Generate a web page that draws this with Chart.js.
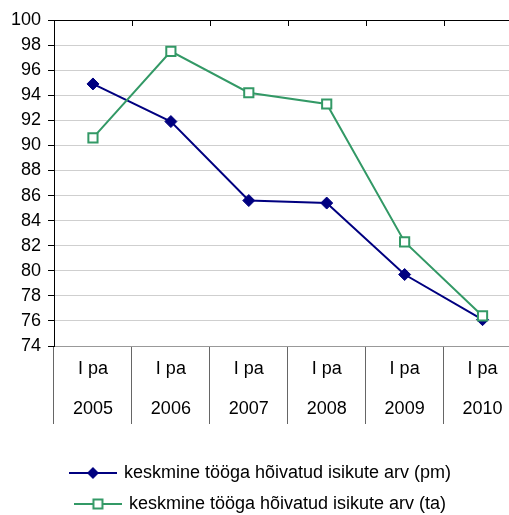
<!DOCTYPE html>
<html>
<head>
<meta charset="utf-8">
<script src="https://cdn.jsdelivr.net/npm/chart.js@4/dist/chart.umd.min.js"></script>
<style>
  html, body { margin: 0; padding: 0; background: #fff; overflow: hidden; }
  #wrap { width: 530px; height: 523px; }
</style>
</head>
<body>
<div id="wrap"><canvas id="lineChart"></canvas></div>
<script>
// andmed
const periood = ["I pa", "I pa", "I pa", "I pa", "I pa", "I pa"];
const aastad = ["2005", "2006", "2007", "2008", "2009", "2010"];
const pmVaartused = [94.9, 91.9, 85.6, 85.4, 79.7, 76.1];
const taVaartused = [90.6, 97.5, 94.2, 93.3, 82.3, 76.4];
const pmNimi = "keskmine tööga hõivatud isikute arv (pm)";
const taNimi = "keskmine tööga hõivatud isikute arv (ta)";

const SININE = "#000080";
const ROHELINE = "#339966";
const FONT = "'Liberation Sans', Arial, sans-serif";

// legendi ikoonid: joon + marker keskel
function teeIkoon(varv, tyyp) {
    const c = document.createElement("canvas");
    c.width = 48;
    c.height = 16;
    const ctx = c.getContext("2d");
    ctx.strokeStyle = varv;
    ctx.lineWidth = 2;
    ctx.beginPath();
    ctx.moveTo(0, 8);
    ctx.lineTo(48, 8);
    ctx.stroke();
    if (tyyp === "romb") {
        ctx.fillStyle = varv;
        ctx.beginPath();
        ctx.moveTo(24, 2);
        ctx.lineTo(30, 8);
        ctx.lineTo(24, 14);
        ctx.lineTo(18, 8);
        ctx.closePath();
        ctx.fill();
    } else {
        ctx.fillStyle = "#fff";
        ctx.fillRect(19.5, 3.5, 9, 9);
        ctx.strokeRect(19.5, 3.5, 9, 9);
    }
    return c;
}
const ikoonid = [teeIkoon(SININE, "romb"), teeIkoon(ROHELINE, "ruut")];

// ülemise telje sisse suunatud kriipsud kategooriate piiril
const ylemisedKriipsud = {
    id: "ylemisedKriipsud",
    afterDraw(chart) {
        const x = chart.scales.x;
        const ctx = chart.ctx;
        const n = x.ticks.length;
        const w = (x.right - x.left) / n;
        const top = chart.chartArea.top;
        ctx.save();
        ctx.strokeStyle = "#000";
        ctx.lineWidth = 1;
        ctx.beginPath();
        ctx.moveTo(chart.chartArea.left, top + 0.5);
        ctx.lineTo(chart.chartArea.right, top + 0.5);
        for (let i = 1; i < n; i++) {
            const px = Math.round(x.left + i * w) + 0.5;
            ctx.moveTo(px, top);
            ctx.lineTo(px, top + 6);
        }
        ctx.stroke();
        ctx.restore();
    }
};

new Chart(document.getElementById("lineChart"), {
    type: "line",
    data: {
        labels: periood.map((p, i) => [p, aastad[i]]),
        datasets: [
            {
                label: pmNimi,
                data: pmVaartused,
                borderColor: SININE,
                backgroundColor: SININE,
                borderWidth: 2,
                pointStyle: "rectRot",
                pointRadius: 6,
                pointBorderWidth: 1,
                pointBackgroundColor: SININE,
                pointBorderColor: SININE,
                tension: 0,
                order: 1
            },
            {
                label: taNimi,
                data: taVaartused,
                borderColor: ROHELINE,
                backgroundColor: "#fff",
                borderWidth: 2,
                pointStyle: "rect",
                pointRadius: 6.5,
                pointBorderWidth: 2,
                pointBackgroundColor: "#fff",
                pointBorderColor: ROHELINE,
                tension: 0,
                order: 0
            }
        ]
    },
    options: {
        responsive: true,
        maintainAspectRatio: false,
        animation: false,
        layout: { padding: { top: 20, right: 8, left: 0, bottom: 0 } },
        plugins: {
            tooltip: { enabled: false },
            legend: {
                position: "bottom",
                labels: {
                    usePointStyle: true,
                    pointStyleWidth: 44,
                    padding: 13,
                    color: "#000",
                    font: { family: FONT, size: 18 },
                    generateLabels: chart => chart.data.datasets.map((ds, i) => ({
                        text: ds.label,
                        pointStyle: ikoonid[i],
                        datasetIndex: i,
                        hidden: false,
                        lineWidth: 0,
                        fontColor: "#000"
                    }))
                }
            }
        },
        scales: {
            x: {
                offset: true,
                afterFit: s => { s.height = 105; },
                grid: {
                    offset: true,
                    drawOnChartArea: false,
                    tickLength: 78,
                    color: "#666",
                    tickColor: "#666"
                },
                border: { color: "#999", width: 1 },
                ticks: {
                    color: "#000",
                    padding: -75,
                    maxRotation: 0,
                    font: { family: FONT, size: 18, lineHeight: 2.22 }
                }
            },
            y: {
                min: 74,
                max: 100,
                afterFit: s => { s.width = 54; },
                grid: {
                    color: ctx => ctx.tick && ctx.tick.value === 100 ? "#000" : "#cfcfcf",
                    tickColor: "#000",
                    tickLength: 6
                },
                border: { color: "#000", width: 1 },
                ticks: {
                    stepSize: 2,
                    color: "#000",
                    padding: 7,
                    font: { family: FONT, size: 18 }
                }
            }
        }
    },
    plugins: [ylemisedKriipsud]
});
</script>
</body>
</html>
